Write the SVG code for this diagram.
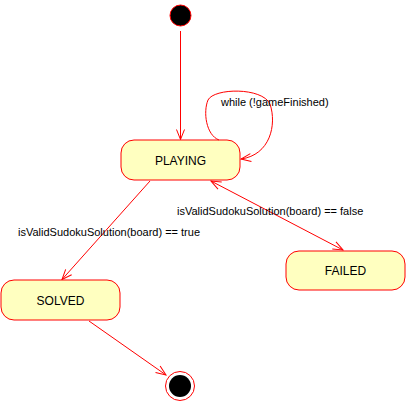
<svg xmlns="http://www.w3.org/2000/svg" width="406" height="401" viewBox="0 0 406 401">
<style>
.state rect{fill:#FFFFC0;stroke:#FF0000;stroke-width:1}
.state text{font-family:"Liberation Sans",Arial,sans-serif;font-size:12px;fill:#000;text-anchor:middle}
.edge{fill:none;stroke:#FF0000;stroke-width:1}
.lbl{font-family:"Liberation Sans",Arial,sans-serif;font-size:11px;fill:#000}
</style>
<defs>
<marker id="arr" viewBox="0 0 12 10" refX="11" refY="5" markerWidth="12" markerHeight="10" markerUnits="userSpaceOnUse" orient="auto-start-reverse">
<path d="M1,1 L11,5 L1,9" fill="none" stroke="#FF0000" stroke-width="1"/>
</marker>
</defs>
<g id="initial"><circle cx="180.5" cy="15.5" r="10.5" fill="#000" stroke="#FF0000" stroke-width="1"/></g>
<g id="PLAYING" class="state"><rect x="121" y="140" width="119" height="40" rx="13"/><text x="180.5" y="164.5">PLAYING</text></g>
<g id="SOLVED" class="state"><rect x="1" y="280" width="119" height="40" rx="13"/><text x="60.5" y="305">SOLVED</text></g>
<g id="FAILED" class="state"><rect x="286" y="251" width="119" height="39" rx="13"/><text x="345.5" y="275">FAILED</text></g>
<g id="final"><circle cx="180" cy="386" r="14.5" fill="#fff" stroke="#FF0000" stroke-width="1"/><circle cx="180" cy="386" r="11" fill="#000"/></g>
<g id="connectors">
<path class="edge" d="M180.5,31 L180.5,139.5" marker-end="url(#arr)"/>
<path class="edge" d="M219,140 C206,135 203,112 208,100 C214,88 262,87 270,104 C277,125 270,155 241,159" marker-end="url(#arr)"/>
<path class="edge" d="M150,181 L62,279.5" marker-end="url(#arr)"/>
<path class="edge" d="M211,181 L343,250" marker-start="url(#arr)" marker-end="url(#arr)"/>
<path class="edge" d="M89,321 L166,375" marker-end="url(#arr)"/>
<text class="lbl" x="221" y="105.5">while (!gameFinished)</text>
<text class="lbl" x="177" y="214.5">isValidSudokuSolution(board) == false</text>
<text class="lbl" x="18" y="235.5">isValidSudokuSolution(board) == true</text>
</g>
</svg>
